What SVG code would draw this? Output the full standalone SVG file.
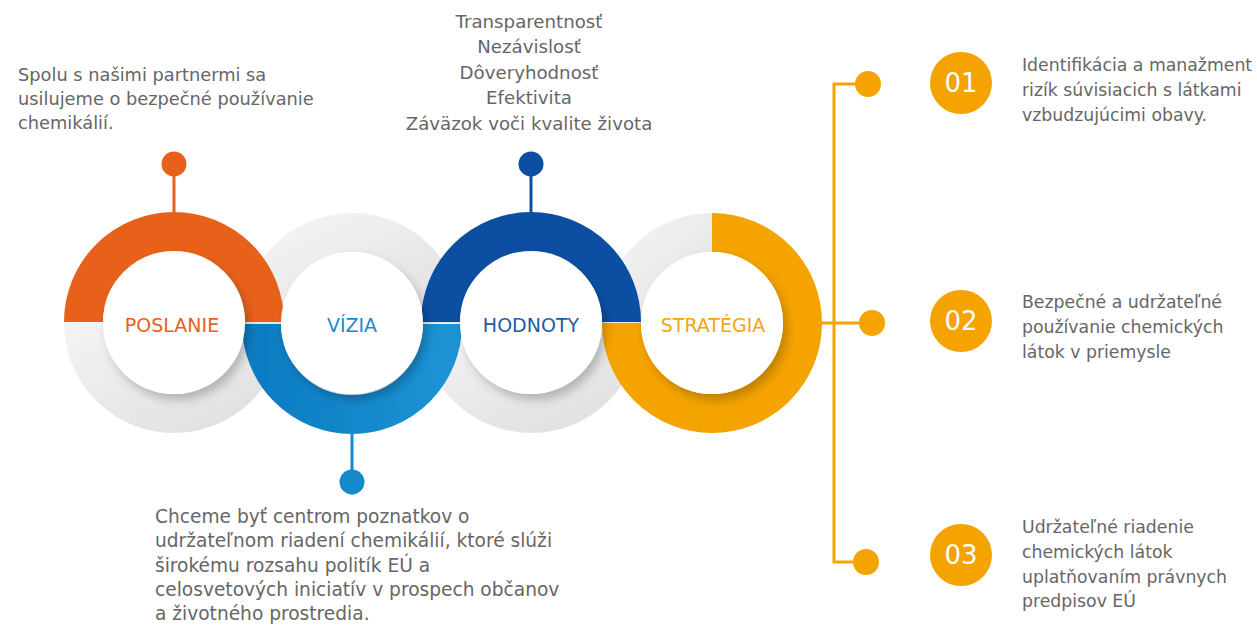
<svg xmlns="http://www.w3.org/2000/svg" width="1257" height="625" viewBox="0 0 1257 625">
<style>
.t{font-family:"DejaVu Sans",Verdana,sans-serif;font-size:17.3px;fill:#666}
.tl{font-size:17.8px}
.tc{font-size:18.2px}
.tb{font-size:18.6px}
.lbl{font-family:"DejaVu Sans",Verdana,sans-serif;font-size:19px;text-anchor:middle}
.num{font-family:"DejaVu Sans",Verdana,sans-serif;font-size:26px;fill:#fff;text-anchor:middle}
.ring{fill:none;stroke-width:39}
.gray{stroke:url(#gg)}
.inner{fill:#fff;filter:url(#sh)}
.ln{fill:none;stroke-width:3}
</style>
<defs>
<linearGradient id="gg" x1="0" y1="0" x2="1" y2="1"><stop offset="0" stop-color="#f3f3f3"/><stop offset="1" stop-color="#e0e0e0"/></linearGradient>
<linearGradient id="gBlue" x1="0" y1="0" x2="1" y2="0"><stop offset="0" stop-color="#0b7cc2"/><stop offset="1" stop-color="#1c92d4"/></linearGradient>
<filter id="sh" x="-30%" y="-30%" width="160%" height="160%"><feDropShadow dx="4" dy="6" stdDeviation="5" flood-color="#000" flood-opacity="0.22"/></filter>
</defs>
<rect width="1257" height="625" fill="#fff"/>
<g id="rings-gray">
<path class="ring gray" d="M264.5 323 A90.5 90.5 0 0 1 83.5 323"/>
<path class="ring gray" d="M261.5 323 A90.5 90.5 0 0 1 442.5 323"/>
<path class="ring gray" d="M621.5 323 A90.5 90.5 0 0 1 440.5 323"/>
<path class="ring gray" d="M621.5 323 A90.5 90.5 0 0 1 712 232.5"/>
</g>
<g id="connectors">
<line class="ln" x1="174" y1="164" x2="174" y2="214" stroke="#e8611a"/>
<line class="ln" x1="531" y1="164" x2="531" y2="214" stroke="#0b4ea2"/>
<line class="ln" x1="352" y1="432" x2="352" y2="482" stroke="#1589cc"/>
<path class="ln" d="M868 84 H834 V562 H866" stroke="#f4a300"/>
<line class="ln" x1="815" y1="323" x2="872" y2="323" stroke="#f4a300"/>
<circle cx="174" cy="164" r="12.5" fill="#e8611a"/>
<circle cx="531" cy="164" r="12.5" fill="#0b4ea2"/>
<circle cx="352" cy="482" r="12.5" fill="#1589cc"/>
<circle cx="868" cy="84" r="13" fill="#f4a300"/>
<circle cx="872" cy="323" r="13" fill="#f4a300"/>
<circle cx="866" cy="562" r="13" fill="#f4a300"/>
</g>
<g id="poslanie">
<path class="ring" stroke="#e8611a" d="M83.5 322 A90.5 90.5 0 0 1 264.5 322"/>
</g>
<g id="vizia">
<path class="ring" stroke="url(#gBlue)" d="M442.5 324 A90.5 90.5 0 0 1 261.5 324"/>
</g>
<g id="hodnoty">
<path class="ring" stroke="#0b4ea2" d="M440.5 322 A90.5 90.5 0 0 1 621.5 322"/>
</g>
<g id="strategia">
<path class="ring" stroke="#f4a300" d="M712 232.5 A90.5 90.5 0 1 1 621.5 323"/>
</g>
<g id="inner">
<circle class="inner" cx="174" cy="323" r="71"/>
<circle class="inner" cx="352" cy="323" r="71"/>
<circle class="inner" cx="531" cy="323" r="71"/>
<circle class="inner" cx="712" cy="323" r="71"/>
<text class="lbl" x="172" y="332" fill="#e8611a">POSLANIE</text>
<text class="lbl" x="352" y="332" fill="#1a8bcc">VÍZIA</text>
<text class="lbl" x="531" y="332" fill="#1f5aa6">HODNOTY</text>
<text class="lbl" x="713" y="332" fill="#f2a516">STRATÉGIA</text>
</g>
<g id="text-poslanie">
<text class="t tl" x="18" y="81">Spolu s našimi partnermi sa</text>
<text class="t tl" x="18" y="105">usilujeme o bezpečné používanie</text>
<text class="t tl" x="18" y="129">chemikálií.</text>
</g>
<g id="text-hodnoty" text-anchor="middle">
<text class="t tc" x="529" y="28">Transparentnosť</text>
<text class="t tc" x="529" y="53">Nezávislosť</text>
<text class="t tc" x="529" y="79">Dôveryhodnosť</text>
<text class="t tc" x="529" y="104">Efektivita</text>
<text class="t tc" x="529" y="130">Záväzok voči kvalite života</text>
</g>
<g id="text-vizia">
<text class="t tb" x="155" y="523">Chceme byť centrom poznatkov o</text>
<text class="t tb" x="155" y="547">udržateľnom riadení chemikálií, ktoré slúži</text>
<text class="t tb" x="155" y="572">širokému rozsahu politík EÚ a</text>
<text class="t tb" x="155" y="596">celosvetových iniciatív v prospech občanov</text>
<text class="t tb" x="155" y="620">a životného prostredia.</text>
</g>
<g id="item-01">
<circle cx="961" cy="83" r="31" fill="#f4a300"/>
<text class="num" x="961" y="92">01</text>
<text class="t" x="1022" y="71">Identifikácia a manažment</text>
<text class="t" x="1022" y="96">rizík súvisiacich s látkami</text>
<text class="t" x="1022" y="121">vzbudzujúcimi obavy.</text>
</g>
<g id="item-02">
<circle cx="961" cy="321" r="31" fill="#f4a300"/>
<text class="num" x="961" y="330">02</text>
<text class="t" x="1022" y="308">Bezpečné a udržateľné</text>
<text class="t" x="1022" y="333">používanie chemických</text>
<text class="t" x="1022" y="358">látok v priemysle</text>
</g>
<g id="item-03">
<circle cx="961" cy="555" r="31" fill="#f4a300"/>
<text class="num" x="961" y="564">03</text>
<text class="t" x="1022" y="533">Udržateľné riadenie</text>
<text class="t" x="1022" y="558">chemických látok</text>
<text class="t" x="1022" y="583">uplatňovaním právnych</text>
<text class="t" x="1022" y="607">predpisov EÚ</text>
</g>
</svg>
